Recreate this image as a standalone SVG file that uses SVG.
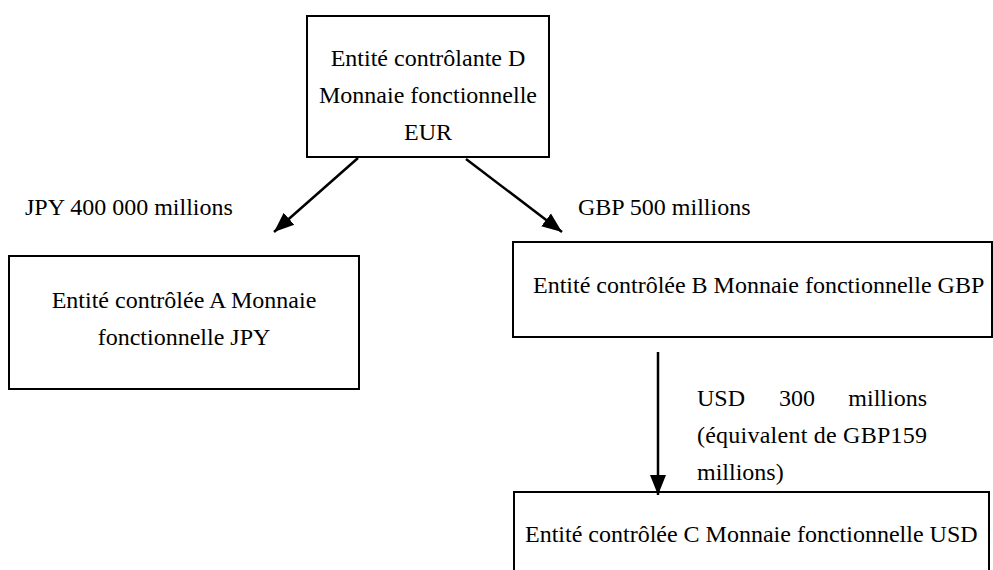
<svg xmlns="http://www.w3.org/2000/svg" width="993" height="570" viewBox="0 0 993 570">
<style>
.box{fill:#fff;stroke:#000;stroke-width:2}
text{font-family:"Liberation Serif","Times New Roman",serif;font-size:24px;fill:#000}
.c{text-anchor:middle}
.conn line{stroke:#000;stroke-width:2.5}
</style>
<defs>
<marker id="ah" markerUnits="userSpaceOnUse" markerWidth="20" markerHeight="20" viewBox="0 0 20 16" refX="20" refY="8" orient="auto">
<path d="M0,0 L20,8 L0,16 z" fill="#000"/>
</marker>
</defs>
<rect width="993" height="570" fill="#fff"/>
<g id="nodeD">
<rect class="box" x="307" y="16" width="242" height="141"/>
<text class="c" x="428" y="66">Entité contrôlante D</text>
<text class="c" x="428" y="103">Monnaie fonctionnelle</text>
<text class="c" x="428" y="140">EUR</text>
</g>
<g id="nodeA">
<rect class="box" x="9" y="256" width="350" height="133"/>
<text class="c" x="184" y="308">Entité contrôlée A Monnaie</text>
<text class="c" x="184" y="345">fonctionnelle JPY</text>
</g>
<g id="nodeB">
<rect class="box" x="513" y="242" width="479" height="95"/>
<text x="533" y="293">Entité contrôlée B Monnaie fonctionnelle GBP</text>
</g>
<g id="nodeC">
<rect class="box" x="514" y="492" width="475" height="90"/>
<text x="525" y="542">Entité contrôlée C Monnaie fonctionnelle USD</text>
</g>
<g id="labels">
<text x="25" y="215">JPY 400 000 millions</text>
<text x="578" y="215">GBP 500 millions</text>
<text x="697" y="406">USD</text>
<text x="779" y="406">300</text>
<text x="927" y="406" text-anchor="end">millions</text>
<text x="697" y="443" textLength="230" lengthAdjust="spacing">(équivalent de GBP159</text>
<text x="697" y="480">millions)</text>
</g>
<g class="conn" id="connectors">
<line x1="358" y1="158" x2="274" y2="232" marker-end="url(#ah)"/>
<line x1="466" y1="159" x2="562" y2="232" marker-end="url(#ah)"/>
<line x1="658" y1="352" x2="658" y2="495" marker-end="url(#ah)"/>
</g>
</svg>
